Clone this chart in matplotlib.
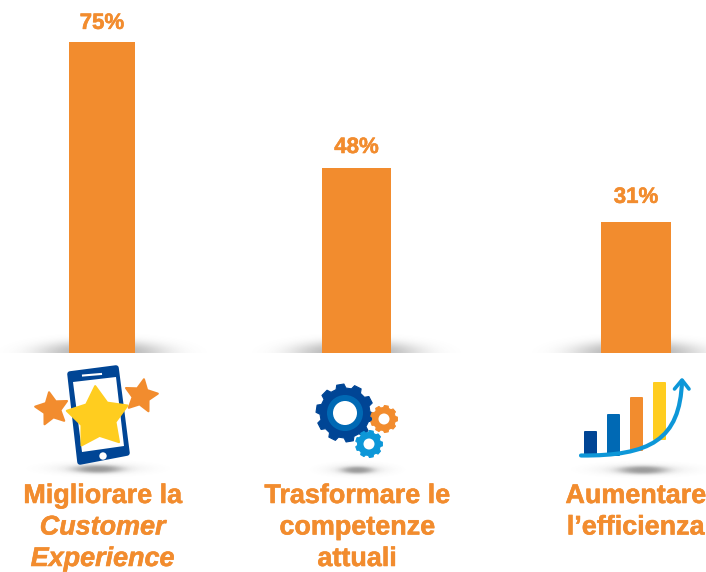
import numpy as np
import matplotlib
matplotlib.use("Agg")
import matplotlib.pyplot as plt
import matplotlib.patheffects as pe
from matplotlib.patches import Polygon, Circle, FancyBboxPatch
from matplotlib.path import Path
from matplotlib.patches import PathPatch

# dati (le barre non sono proporzionali alle etichette)
percent_labels = ["75%", "48%", "31%"]
bar_heights = [75, 44.6, 31.6]
bar_centers = [102, 356.5, 636]
bar_widths = [66, 69, 70]
label_offsets = [13.4, 14.8, 17.7]
category_lines = [
    [("Migliorare la", "normal"), ("Customer", "italic"), ("Experience", "italic")],
    [("Trasformare le", "normal"), ("competenze", "normal"), ("attuali", "normal")],
    [("Aumentare", "normal"), ("l\u2019efficienza", "normal")],
]
category_x = [102.5, 357, 635.5]

ORANGE = "#F28C2E"
NAVY = "#004595"
BLUE = "#0069B4"
CYAN = "#0D97D8"
YELLOW = "#FFCD1F"
FONT = "Liberation Sans"

W, H = 706, 572
fig = plt.figure(figsize=(W / 100, H / 100), dpi=100)

# asse di sfondo in pixel, per icone e ombre
bg = fig.add_axes([0, 0, 1, 1])
bg.axis("off")


def shadow(cx, cy, rx, ry, strength, top_only=False):
    x = np.linspace(-2.2, 2.2, 200)
    y = np.linspace(-2.2, 0 if top_only else 2.2, 60)
    xx, yy = np.meshgrid(x, y)
    a = np.exp(-(xx ** 2 + yy ** 2) ** 1.5)
    img = np.zeros(a.shape + (4,))
    img[..., :3] = 0.4
    img[..., 3] = a * strength
    bottom = cy if top_only else cy + 2.2 * ry
    bg.imshow(img, extent=(cx - 2.2 * rx, cx + 2.2 * rx, bottom, cy - 2.2 * ry),
              origin="upper", aspect="auto", zorder=1, interpolation="bilinear")


def star(cx, cy, r, color, rot=0, ratio=0.5, z=3):
    ang = np.radians(-90 + rot + np.arange(10) * 36)
    rad = np.where(np.arange(10) % 2 == 0, r, r * ratio)
    pts = np.c_[cx + rad * np.cos(ang), cy + rad * np.sin(ang)]
    bg.add_patch(Polygon(pts, closed=True, fc=color, ec=color, lw=1.5, joinstyle="round", zorder=z))


def gear(cx, cy, r_out, r_in, teeth, color, rot=0):
    pts = []
    step = 2 * np.pi / teeth
    for i in range(teeth):
        a = rot + i * step
        for da, r in [(-0.32, r_in), (-0.2, r_out), (0.2, r_out), (0.32, r_in)]:
            pts.append((cx + r * np.cos(a + da * step), cy + r * np.sin(a + da * step)))
    bg.add_patch(Polygon(pts, closed=True, fc=color, ec=color, lw=0.8, joinstyle="round", zorder=3))


# ombre alla base delle barre
for c in bar_centers:
    shadow(c, 353, 62, 12, 0.5, top_only=True)
# ombre sotto le icone
shadow(98, 469, 48, 6, 0.12)
shadow(98, 469, 24, 4, 0.6)
shadow(357, 470, 32, 6, 0.12)
shadow(357, 470, 16, 3.5, 0.6)
shadow(643, 470, 48, 6, 0.12)
shadow(643, 470, 24, 4, 0.6)

# telefono
bg.add_patch(Polygon([(70, 374), (116, 368), (127, 453), (80, 462)], closed=True,
                     fc=NAVY, ec=NAVY, lw=4, joinstyle="round", zorder=2))
bg.add_patch(Polygon([(73, 382), (116, 377), (124, 446), (82, 452)], closed=True, fc="white", zorder=2.5))
bg.plot([83, 101], [375.5, 374], color="white", lw=1.5, zorder=2.5)
bg.add_patch(Circle((103, 456), 3.7, fc="white", zorder=2.5))
star(98, 418, 32, YELLOW, rot=-5, ratio=0.56)
star(52, 409, 17, ORANGE, rot=-10)
star(141, 396, 17, ORANGE, rot=10)

# ingranaggi
gear(345, 413, 29, 25, 10, NAVY, rot=0.15)
bg.add_patch(Circle((345, 413), 18, fc=BLUE, zorder=3.1))
bg.add_patch(Circle((345, 413), 12, fc="white", zorder=3.2))
gear(384, 419, 13.5, 11.5, 9, ORANGE)
bg.add_patch(Circle((384, 419), 5.5, fc="white", zorder=3.2))
gear(369, 444, 13.5, 11.5, 9, CYAN)
bg.add_patch(Circle((369, 444), 5.5, fc="white", zorder=3.2))

# icona con barrette e freccia
for x0, y0, y1, col in [(584, 431, 456, NAVY), (607, 414, 456, BLUE),
                        (630, 397, 451, ORANGE), (653, 382, 440, YELLOW)]:
    bg.add_patch(FancyBboxPatch((x0 + 1, y0 + 1), 11, y1 - y0 - 2, boxstyle="round,pad=1",
                                fc=col, ec="none", zorder=2))
curve = Path([(581, 455.5), (650, 456), (680, 440), (682, 381)],
             [Path.MOVETO, Path.CURVE4, Path.CURVE4, Path.CURVE4])
bg.add_patch(PathPatch(curve, fc="none", ec=CYAN, lw=3, capstyle="round", zorder=3))
bg.plot([674.5, 682, 689], [389, 380, 389], color=CYAN, lw=2.6,
        solid_capstyle="round", solid_joinstyle="round", zorder=3)

bg.set_xlim(0, W)
bg.set_ylim(H, 0)

heavy = [pe.withStroke(linewidth=0.4, foreground=ORANGE)]

# testi delle categorie
for cx, lines in zip(category_x, category_lines):
    for i, (txt, style) in enumerate(lines):
        bg.text(cx, 496 + i * 31.5, txt, color=ORANGE, fontsize=19.4, fontweight="bold",
                fontstyle=style, family=FONT, ha="center", va="center", zorder=4,
                path_effects=heavy)

# barre
ax = fig.add_axes([0, (H - 353) / H, 1, 311 / H])
ax.patch.set_alpha(0)
ax.axis("off")
bars = ax.bar(bar_centers, bar_heights, width=bar_widths, color=ORANGE)
ax.set_xlim(0, W)
ax.set_ylim(0, 75)
for c, h, lab, off in zip(bar_centers, bar_heights, percent_labels, label_offsets):
    ax.annotate(lab, (c, h), xytext=(0, off), textcoords="offset points", ha="center", va="center",
                color=ORANGE, fontsize=16, fontweight="bold", family=FONT, annotation_clip=False,
                path_effects=heavy)

fig.savefig("out.png", dpi=100)
